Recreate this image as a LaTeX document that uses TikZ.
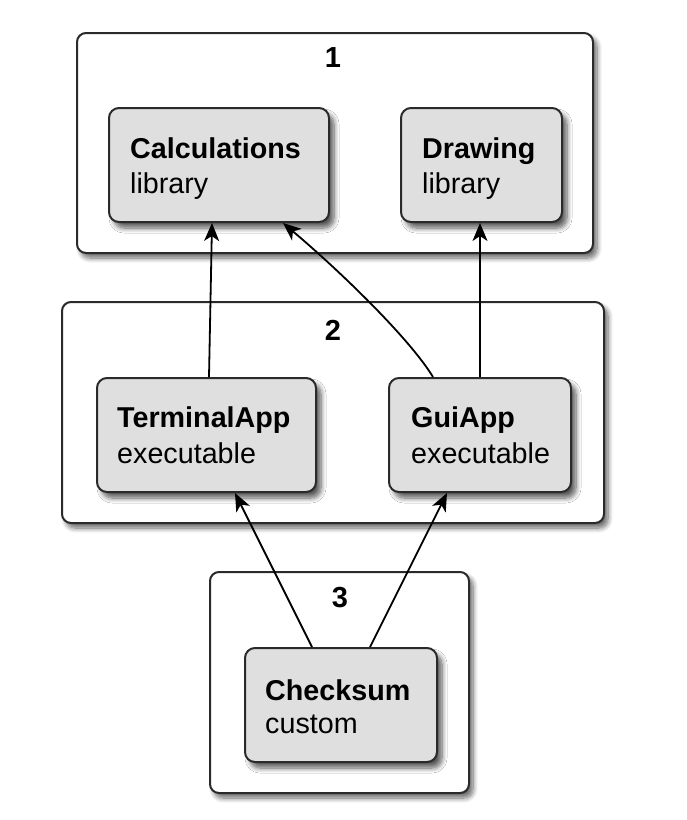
\documentclass[tikz,border=0pt]{standalone}
\usepackage{fontspec}
\setmainfont{Liberation Sans}
\usetikzlibrary{arrows.meta,shadows.blur,calc}
\definecolor{nodefill}{HTML}{DFDFDF}
\definecolor{edge}{HTML}{2A2A2A}
\tikzset{
  group/.style={draw=edge, line width=2pt, rounded corners=9pt, fill=white,
    blur shadow={shadow xshift=4pt, shadow yshift=-5pt, shadow blur steps=8, shadow blur radius=5pt, shadow opacity=60}},
  target/.style={draw=edge, line width=2pt, rounded corners=10pt, fill=nodefill,
    blur shadow={shadow xshift=5pt, shadow yshift=-6pt, shadow blur steps=8, shadow blur radius=5pt, shadow opacity=65}},
  ttl/.style={anchor=base west, inner sep=0pt, font=\fontsize{28.7}{32}\selectfont\bfseries},
  sub/.style={anchor=base west, inner sep=0pt, font=\fontsize{28.7}{32}\selectfont},
  grp/.style={inner sep=0pt, font=\fontsize{29}{32}\selectfont\bfseries},
  arr/.style={draw=black, line width=1.8pt, -{Stealth[length=18pt,width=15pt,inset=5pt]}}
}
\begin{document}
\begin{tikzpicture}[x=1pt,y=-1pt]
\useasboundingbox (0,0) rectangle (687,820);
% groups
\node[group, minimum width=516pt, minimum height=220pt] (g1) at (335,143) {};
\node[group, minimum width=542pt, minimum height=221pt] (g2) at (333,412.5) {};
\node[group, minimum width=259pt, minimum height=221pt] (g3) at (339.5,682.5) {};
\node[grp] (l1) at (333,58) {1};
\node[grp] (l2) at (333,330) {2};
\node[grp] (l3) at (340,598) {3};
% targets
\node[target, minimum width=220pt, minimum height=114pt] (calc) at (219,165) {};
\node[target, minimum width=161pt, minimum height=114pt] (draw) at (481.5,165) {};
\node[target, minimum width=219pt, minimum height=114pt] (term) at (206.5,435) {};
\node[target, minimum width=182pt, minimum height=114pt] (gui) at (480,435) {};
\node[target, minimum width=192pt, minimum height=114pt] (chk) at (341,705) {};
% texts
\node[ttl] (calct) at (130,158) {Calculations};
\node[sub] (calcs) at (130,193) {library};
\node[ttl] (drawt) at (422,158) {Drawing};
\node[sub] (draws) at (422,193) {library};
\node[ttl] (termt) at (117,427) {TerminalApp};
\node[sub] (terms) at (117,463) {executable};
\node[ttl] (guit) at (411,427) {GuiApp};
\node[sub] (guis) at (411,463) {executable};
\node[ttl] (chkt) at (265,700) {Checksum};
\node[sub] (chks) at (265,733) {custom};
% connectors
\draw[arr] ($(term.north)+(2.5,0)$) -- ($(calc.south)+(-7,0)$);
\draw[arr] ($(gui.north)+(-47,0)$) .. controls ($(gui.north)+(-70,-38)$) and ($(calc.south)+(121,48)$) .. ($(calc.south)+(64,0)$);
\draw[arr] (gui.north) -- (gui.north |- draw.south);
\draw[arr] ($(chk.north)+(-29,0)$) -- ($(term.south)+(28.5,0)$);
\draw[arr] ($(chk.north)+(29,0)$) -- ($(gui.south)+(-33,0)$);
\end{tikzpicture}
\end{document}
